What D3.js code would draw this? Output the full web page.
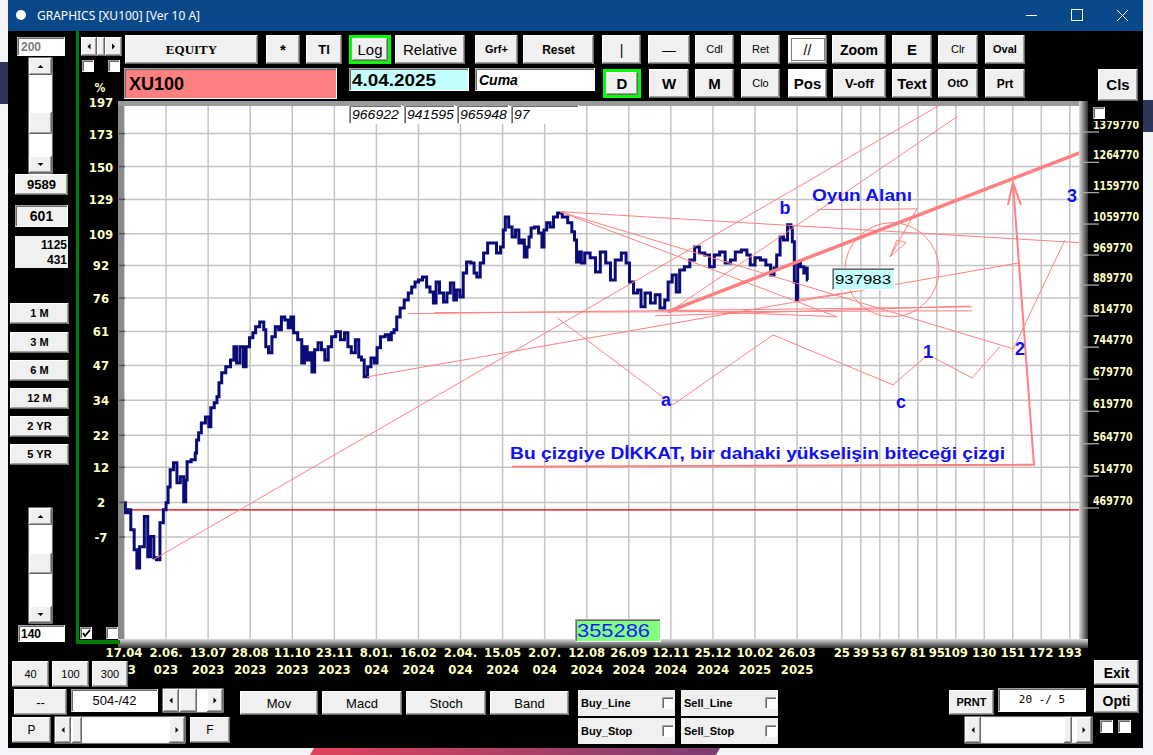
<!DOCTYPE html>
<html>
<head>
<meta charset="utf-8">
<title>GRAPHICS [XU100] [Ver 10 A]</title>
<script src="https://cdn.jsdelivr.net/npm/d3@7"></script>
<style>
  html, body { margin:0; padding:0; background:#f3f4f7; overflow:hidden; }
  svg { display:block; }
</style>
</head>
<body>
<div id="chart"></div>
<script>

//******************************************************************************
//**  Data (% change vs 17.04.2023)
//******************************************************************************
var priceBars = [0,2,4,6,9,10,13,17,18,21,23,25,28,30,32,33,35,38,40,43,45,46,47,52,53,54,56,58,62,63,65,68,69,71,73,77,80,82,84,87,89,91,94,96,98,102,104,105,108,110,113,115,117,120,122,124,126,130,132,134,136,138,139,142,144,147,149,152,154,158,161,164,166,169,172,174,176,178,181,183,186,187,191,194,196,198,200,202,205,208,211,213,216,218,222,224,227,229,231,234,237,239,242,244,246,249,251,254,257,259,261,264,266,270,273,276,279,280,282,285,287,290,292,294,296,298,299,301,304,307,309,310,313,315,318,321,325,329,331,333,334,336,338,341,346,349,353,357,360,364,369,371,374,377,380,382,386,390,393,397,400,402,406,408,411,415,419,422,426,430,433,437,441,445,449,452,458,460,463,467,471,475,478,480,482,485,487,491,492,493,495,496,497,500,502,503,504];
var pricePct = [1.9,-0.8,0,-5.2,-10.1,-14.4,-9.4,-1.8,-11.8,-6.9,-12.0,-12.5,-3.4,0,1.9,6.3,11.3,13.4,7.5,9.2,2.2,8.3,13.7,14.3,16.4,20.5,22.8,26.1,28.1,24.8,31.3,33.1,35.2,40.4,44.2,46.5,49.2,54.5,48.0,54.5,46.5,54.5,58.3,60.4,63.0,65.1,61.7,54.5,52.1,58.7,63.0,61.7,67.3,66.0,62.6,67.3,60.4,57.4,48.0,54.5,49.2,52.1,44.5,53.3,56.2,53.3,49.2,54.5,58.7,60.9,57.4,60.4,54.5,52.1,57.4,50.4,49.2,42.6,46.5,50.0,48.0,54.1,58.7,59.6,57.4,60.4,61.7,67.3,71.4,75.1,78.4,81.3,83.7,84.7,86.2,81.3,78.8,73.7,83.7,78.4,74.2,78.4,83.2,75.1,79.8,76.5,88.1,93.8,93.2,88.1,86.2,93.2,98.5,103.9,103.9,98.5,101.7,111.1,118.5,112.8,107.2,111.1,103.9,105.5,96.4,101.7,107.2,112.2,112.8,109.4,101.7,111.1,115.1,112.8,118.5,120.8,118.5,115.1,110.0,105.5,93.8,99.0,93.2,98.5,96.0,88.6,99.0,93.2,84.7,94.8,98.5,93.2,83.7,78.4,79.8,71.9,78.4,73.7,77.5,71.4,75.1,83.7,87.1,78.8,89.7,91.3,94.8,101.7,98.5,97.4,91.3,97.4,99.0,93.2,94.8,99.0,100.1,97.4,92.2,96.0,94.8,92.2,87.1,90.7,97.4,107.2,105.5,114.0,112.2,104.5,83.7,75.1,93.2,91.3,88.1,90.7,84.7];

var dateBars = [0,31,62,93,124,155,186,217,248,279,310,341,372,403,434,465,496];
var dateDay  = ["17.04","2.06.","13.07","28.08","11.10","23.11","8.01.","16.02","2.04.","15.05","2.07.","12.08","26.09","12.11","25.12","10.02","26.03"];
var dateYear = ["2023","023","2023","2023","2023","2023","024","2024","024","2024","024","2024","2024","2024","2024","2025","2025"];
var lastBar = 504;
var futureSteps = [25,39,53,67,81,95,109,130,151,172,193];

var pctTicks = [197,173,150,129,109,92,76,61,47,34,22,12,2,-7];
var priceTicks = [1379770,1264770,1159770,1059770,969770,889770,814770,744770,679770,619770,564770,514770,469770];

// hand drawn trend lines, [bar, %]
var thinLines = [
    [[21.4,-12.5],[605,197]],
    [[401,69.3],[614,185.6]],
    [[321.3,121.6],[704.5,104.0]],
    [[321.3,121.6],[525.4,67.4]],
    [[321.3,121.6],[655.1,53.7]],
    [[179.1,42.6],[660.3,93.4]],
    [[209.3,68.8],[624.9,71.9]],
    [[229.2,69.3],[624.9,70.1]],
    [[391.3,67.8],[623.4,72.3]],
    [[400.1,70.5],[525.4,67.4]],
    [[319.1,67.0],[404.6,32.4],[478.3,59.5],[566.7,39.6],[592.5,51.3],[624.9,42.2],[645.5,54.5]],
    [[654.4,52.5],[693.4,105.5]],
    [[510.7,122.8],[584.4,123.3],[564.5,96.5],[576.3,104.0],[569.6,105.5],[564.5,96.5]],
    [[496.7,75.1],[537.2,79.0]]
];
var mediumLines = [
    [[655.1,139.4],[670.6,12.8],[285.9,12.2]],
    [[651.4,125.7],[655.1,139.4],[661.0,125.7]]
];
var boldLines = [
    [[401,69.7],[704.5,159.4]]
];
var ovalBox = [[531.3,115.2],[600.6,67.4]];

var notes = [
    ["Oyun Alanı",507,128.2],
    ["b",487.1,120.4],
    ["a",399.4,32.0],
    ["c",572.6,31.3],
    ["1",592.5,50.0],
    ["2",660.3,51.3],
    ["3",698.6,127.6],
    ["Bu çizgiye DİKKAT, bir dahaki yükselişin biteceği çizgi",284.5,14.6]
];

var topValues = ["966922","941595","965948","97"];


//******************************************************************************
//**  Setup
//******************************************************************************
var SANS = "'Liberation Sans', Arial, sans-serif";
var NARROW = "'Liberation Sans Narrow', 'DejaVu Sans Condensed', 'Liberation Sans', sans-serif";
var YELLOW = "#ffffc4";
var PINK = "#ff8080";

var svg = d3.select("#chart").append("svg")
    .attr("width", 1153).attr("height", 755)
    .style("font-family", SANS);

var plot = {left:124, top:106, right:1079, bottom:639};

var x = d3.scaleLinear().domain([0, 704]).range([124, 1079.3]);
var yLog = d3.scaleLog().domain([0.93, 2.97]).range([537, 102]);
var yp = function(p){ return yLog(1 + p/100); };
var yPrice = d3.scaleLog().domain([469770, 1379770]).range([508, 132]);


//******************************************************************************
//**  Widget helpers
//******************************************************************************
function raised(g, x0, y0, w, h, fill){
    g.append("rect").attr("x",x0).attr("y",y0).attr("width",w).attr("height",h).attr("fill",fill||"#f0f0f0");
    g.append("path").attr("d","M"+(x0+0.5)+","+(y0+h-1)+"V"+(y0+0.5)+"H"+(x0+w-1)).attr("stroke","#fff").attr("fill","none");
    g.append("path").attr("d","M"+(x0+1)+","+(y0+h-1.5)+"H"+(x0+w-1.5)+"V"+(y0+1)).attr("stroke","#a0a0a0").attr("fill","none");
    g.append("path").attr("d","M"+x0+","+(y0+h-0.5)+"H"+(x0+w-0.5)+"V"+y0).attr("stroke","#696969").attr("fill","none");
}

function sunken(g, x0, y0, w, h, fill){
    g.append("rect").attr("x",x0).attr("y",y0).attr("width",w).attr("height",h).attr("fill",fill||"#fff");
    g.append("path").attr("d","M"+(x0+0.5)+","+(y0+h)+"V"+(y0+0.5)+"H"+(x0+w)).attr("stroke","#a0a0a0").attr("fill","none");
    g.append("path").attr("d","M"+(x0+1.5)+","+(y0+h-1)+"V"+(y0+1.5)+"H"+(x0+w-1)).attr("stroke","#696969").attr("fill","none");
    g.append("path").attr("d","M"+(x0+0.5)+","+(y0+h-0.5)+"H"+(x0+w-0.5)+"V"+y0).attr("stroke","#fff").attr("fill","none");
}

function txt(g, tx, ty, t, size, weight, anchor, color, family, style){
    return g.append("text").attr("x",tx).attr("y",ty).text(t)
        .attr("font-size", size+"px")
        .attr("font-weight", weight||"normal")
        .attr("text-anchor", anchor||"middle")
        .attr("fill", color||"#000")
        .attr("font-family", family||SANS)
        .attr("font-style", style||"normal");
}

function button(g, b){ // [x, y, w, h, label, size, weight, family]
    raised(g, b[0], b[1], b[2], b[3]);
    txt(g, b[0]+b[2]/2, b[1]+b[3]/2+b[5]*0.36, b[4], b[5], b[6], "middle", "#000", b[7]);
}

function arrowBtn(g, x0, y0, w, h, dir){
    raised(g, x0, y0, w, h);
    var cx = x0+w/2, cy = y0+h/2, s = 3;
    var d;
    if (dir==="up") d = "M"+(cx-s)+","+(cy+1.5)+"L"+(cx+s)+","+(cy+1.5)+"L"+cx+","+(cy-1.5)+"Z";
    else if (dir==="down") d = "M"+(cx-s)+","+(cy-1.5)+"L"+(cx+s)+","+(cy-1.5)+"L"+cx+","+(cy+1.5)+"Z";
    else if (dir==="left") d = "M"+(cx+1.5)+","+(cy-s)+"L"+(cx+1.5)+","+(cy+s)+"L"+(cx-1.5)+","+cy+"Z";
    else d = "M"+(cx-1.5)+","+(cy-s)+"L"+(cx-1.5)+","+(cy+s)+"L"+(cx+1.5)+","+cy+"Z";
    g.append("path").attr("d", d).attr("fill","#000");
}

function vscroll(g, x0, y0, w, h, thumbTop, thumbH){
    g.append("rect").attr("x",x0).attr("y",y0).attr("width",w).attr("height",h).attr("fill","#fff").attr("stroke","#e3e3e3");
    arrowBtn(g, x0, y0, w, 17, "up");
    arrowBtn(g, x0, y0+h-17, w, 17, "down");
    raised(g, x0, thumbTop, w, thumbH);
}

function hscroll(g, x0, y0, w, h, thumbLeft, thumbW){
    g.append("rect").attr("x",x0).attr("y",y0).attr("width",w).attr("height",h).attr("fill","#fff").attr("stroke","#e3e3e3");
    arrowBtn(g, x0, y0, 16, h, "left");
    arrowBtn(g, x0+w-16, y0, 16, h, "right");
    raised(g, thumbLeft, y0, thumbW, h);
}

function checkbox(g, x0, y0, s, checked){
    sunken(g, x0, y0, s, s, "#fff");
    if (checked){
        g.append("path").attr("d","M"+(x0+3)+","+(y0+6)+"L"+(x0+5)+","+(y0+9)+"L"+(x0+10)+","+(y0+3))
            .attr("stroke","#000").attr("stroke-width",1.8).attr("fill","none");
    }
}


//******************************************************************************
//**  Desktop + window
//******************************************************************************
svg.append("rect").attr("width",1153).attr("height",755).attr("fill","#f3f4f7");
svg.append("rect").attr("x",0).attr("y",62).attr("width",8).attr("height",42).attr("fill","#2e3358");
svg.append("rect").attr("x",1143).attr("y",100).attr("width",10).attr("height",32).attr("fill","#2e3358");

var defs = svg.append("defs");
var grad = defs.append("linearGradient").attr("id","band");
grad.append("stop").attr("offset","0%").attr("stop-color","#e2435b");
grad.append("stop").attr("offset","100%").attr("stop-color","#7b3d72");
svg.append("path").attr("d","M314,748L720,748L716,755L310,755Z").attr("fill","url(#band)");

svg.append("rect").attr("x",8).attr("y",0).attr("width",1135).attr("height",748).attr("fill","#000");

// title bar
svg.append("rect").attr("x",8).attr("y",0).attr("width",1135).attr("height",31).attr("fill","#0a4989");
svg.append("circle").attr("cx",21).attr("cy",15).attr("r",5).attr("fill","#fff");
txt(svg, 37, 20, "GRAPHICS  [XU100] [Ver 10 A]", 12, "normal", "start", "#fff", "'Noto Sans', " + SANS);
svg.append("path").attr("d","M1026,15.5H1037").attr("stroke","#fff");
svg.append("rect").attr("x",1071.5).attr("y",9.5).attr("width",11).attr("height",11).attr("fill","none").attr("stroke","#fff");
svg.append("path").attr("d","M1117,10L1128,21M1128,10L1117,21").attr("stroke","#fff");


//******************************************************************************
//**  Plot frame
//******************************************************************************
var frameGrad = defs.append("linearGradient").attr("id","fr").attr("x1","0").attr("x2","1");
frameGrad.append("stop").attr("offset","0%").attr("stop-color","#dcdcdc");
frameGrad.append("stop").attr("offset","100%").attr("stop-color","#303030");
var frameGradV = defs.append("linearGradient").attr("id","frv").attr("x1","0").attr("x2","0").attr("y1","0").attr("y2","1");
frameGradV.append("stop").attr("offset","0%").attr("stop-color","#dcdcdc");
frameGradV.append("stop").attr("offset","100%").attr("stop-color","#303030");

svg.append("rect").attr("x",118).attr("y",101).attr("width",6).attr("height",547).attr("fill","#8a8a8a");
svg.append("rect").attr("x",118).attr("y",101).attr("width",970).attr("height",5).attr("fill","#9a9a9a");
svg.append("rect").attr("x",plot.right).attr("y",101).attr("width",9).attr("height",547).attr("fill","url(#fr)");
svg.append("rect").attr("x",118).attr("y",plot.bottom).attr("width",970).attr("height",9).attr("fill","url(#frv)");
svg.append("rect").attr("x",plot.left).attr("y",plot.top)
    .attr("width",plot.right-plot.left).attr("height",plot.bottom-plot.top).attr("fill","#fff");

defs.append("clipPath").attr("id","clip").append("rect")
    .attr("x",plot.left).attr("y",plot.top).attr("width",plot.right-plot.left).attr("height",plot.bottom-plot.top);

var plotArea = svg.append("g").attr("clip-path","url(#clip)");

// grid
var vBars = dateBars.concat(futureSteps.map(function(s){ return lastBar + s; }));
plotArea.selectAll(".vgrid").data(vBars).enter().append("line")
    .attr("x1", function(d){ return x(d); }).attr("x2", function(d){ return x(d); })
    .attr("y1", plot.top).attr("y2", plot.bottom)
    .attr("stroke","#c4c4c4").attr("stroke-width",1.5);
plotArea.selectAll(".hgrid").data(pctTicks).enter().append("line")
    .attr("x1", plot.left).attr("x2", plot.right)
    .attr("y1", function(d){ return yp(d); }).attr("y2", function(d){ return yp(d); })
    .attr("stroke","#c4c4c4").attr("stroke-width",1.5);

// zero line
plotArea.append("line").attr("x1",plot.left).attr("x2",plot.right)
    .attr("y1",yp(0)).attr("y2",yp(0)).attr("stroke","#d80000").attr("stroke-width",1.2);

// left edge ticks
svg.selectAll(".ltick").data(pctTicks.filter(function(d){ return yp(d) > plot.top; })).enter().append("line")
    .attr("x1",119).attr("x2",125)
    .attr("y1", function(d){ return yp(d); }).attr("y2", function(d){ return yp(d); })
    .attr("stroke","#505050").attr("stroke-width",1.5);

// price line (daily closes, drawn as steps like the original)
var idx = d3.range(priceBars.length);
var priceLine = d3.line()
    .x(function(i){ return x(priceBars[i]); })
    .y(function(i){ return yp(pricePct[i]); })
    .curve(d3.curveStep);
plotArea.append("path").datum(idx).attr("d", priceLine)
    .attr("fill","none").attr("stroke","#0a0a78").attr("stroke-width",3);

// trend lines
var trend = d3.line().x(function(d){ return x(d[0]); }).y(function(d){ return yp(d[1]); });
plotArea.selectAll(".thin").data(thinLines).enter().append("path")
    .attr("d", trend).attr("fill","none").attr("stroke",PINK).attr("stroke-width",1);
plotArea.selectAll(".medium").data(mediumLines).enter().append("path")
    .attr("d", trend).attr("fill","none").attr("stroke",PINK).attr("stroke-width",2);
plotArea.selectAll(".bold").data(boldLines).enter().append("path")
    .attr("d", trend).attr("fill","none").attr("stroke",PINK).attr("stroke-width",3.5);

// oval
var ox0 = x(ovalBox[0][0]), ox1 = x(ovalBox[1][0]);
var oy0 = yp(ovalBox[0][1]), oy1 = yp(ovalBox[1][1]);
plotArea.append("ellipse")
    .attr("cx",(ox0+ox1)/2).attr("cy",(oy0+oy1)/2)
    .attr("rx",Math.abs(ox1-ox0)/2).attr("ry",Math.abs(oy1-oy0)/2)
    .attr("fill","none").attr("stroke",PINK).attr("stroke-width",1);

// notes
notes.forEach(function(n){
    var longText = n[0].length > 2;
    var t = txt(plotArea, x(n[1]), yp(n[2]), n[0], longText ? 17 : 18, "bold",
        longText ? "start" : "middle", "#1010f4");
    if (n[0].length > 20) t.attr("textLength", 495).attr("lengthAdjust","spacingAndGlyphs");
    else if (longText) t.attr("textLength", 100).attr("lengthAdjust","spacingAndGlyphs");
});

// value boxes in the plot
var topBoxX = [349,404,457,511], topBoxW = [53,51,52,68];
topValues.forEach(function(v,i){
    sunken(svg, topBoxX[i], 105, topBoxW[i], 19, "#fff");
    txt(svg, topBoxX[i]+3, 119, v, 12, "normal", "start", "#000", SANS, "italic")
        .attr("textLength", v.length*7.8).attr("lengthAdjust","spacingAndGlyphs");
});
sunken(svg, 832, 268, 63, 22, "#c4ffff");
txt(svg, 835, 284, "937983", 13, "normal", "start", "#000", SANS)
    .attr("textLength",56).attr("lengthAdjust","spacingAndGlyphs");
sunken(svg, 575, 619, 86, 23, "#80ff80");
txt(svg, 577, 637, "355286", 18, "normal", "start", "#1818ff")
    .attr("textLength",73).attr("lengthAdjust","spacingAndGlyphs");


//******************************************************************************
//**  Axes labels
//******************************************************************************
pctTicks.forEach(function(d){
    txt(svg, 101, yp(d)+5, d, 13, "bold", "middle", YELLOW, NARROW);
});
txt(svg, 100, 92, "%", 12, "bold", "middle", YELLOW, NARROW);

priceTicks.forEach(function(v){
    var ty = yPrice(v);
    var s = String(v);
    svg.append("line").attr("x1",1080).attr("x2",1099).attr("y1",ty).attr("y2",ty)
        .attr("stroke","#a8a8a8").attr("stroke-width",1.3);
    txt(svg, 1093, ty-3, s, 13, "bold", "start", YELLOW, NARROW)
        .attr("textLength", s.length*6.6).attr("lengthAdjust","spacingAndGlyphs");
});

dateBars.forEach(function(b,i){
    txt(svg, x(b), 657, dateDay[i], 13, "bold", "middle", YELLOW, NARROW);
    if (x(b) - 12 < 129) {
        // the first year label is cut by the "300" button, only its tail shows
        txt(svg, x(b)+12, 674, dateYear[i].slice(-1), 13, "bold", "end", YELLOW, NARROW);
    } else {
        txt(svg, x(b), 674, dateYear[i], 13, "bold", "middle", YELLOW, NARROW);
    }
});
futureSteps.forEach(function(s){
    txt(svg, x(lastBar+s), 657, s, 13, "bold", "middle", YELLOW, NARROW);
});


//******************************************************************************
//**  Toolbar + controls
//******************************************************************************
var ui = svg.append("g");

// right top cover + checkbox
ui.append("rect").attr("x",1088).attr("y",100).attr("width",55).attr("height",21).attr("fill","#000");
checkbox(ui, 1093, 107, 12, false);

// green frame
ui.append("rect").attr("x",76).attr("y",31).attr("width",3).attr("height",613).attr("fill","#008000");
ui.append("rect").attr("x",76).attr("y",640).attr("width",44).attr("height",4).attr("fill","#008000");

var topButtons = [
    [125,35,133,29,"EQUITY",13,"bold","'Liberation Serif', serif"],
    [266,35,34,29,"*",15,"bold"],
    [306,35,36,29,"Tl",13,"bold"],
    [352,38,36,23,"Log",15,"normal"],
    [395,35,70,29,"Relative",15,"normal"],
    [475,35,43,29,"Grf+",11,"bold"],
    [523,35,71,29,"Reset",12,"bold"],
    [602,35,39,29,"|",14,"normal"],
    [648,35,42,29,"\u2014",14,"normal"],
    [695,35,39,29,"Cdl",11,"normal"],
    [741,35,39,29,"Ret",11,"normal"],
    [832,35,54,29,"Zoom",14,"bold"],
    [892,35,40,29,"E",15,"bold"],
    [938,35,40,29,"Clr",11,"normal"],
    [985,35,40,29,"Oval",11,"bold"],
    [606,72,32,23,"D",15,"bold"],
    [649,69,40,29,"W",15,"bold"],
    [695,69,39,29,"M",15,"bold"],
    [741,69,39,29,"Clo",11,"normal"],
    [833,69,53,29,"V-off",13,"bold"],
    [892,69,40,29,"Text",15,"bold"],
    [938,69,40,29,"OtO",11,"bold"],
    [985,69,40,29,"Prt",12,"bold"],
    [1098,69,40,32,"Cls",15,"bold"]
];
topButtons.forEach(function(b){ button(ui, b); });

// pressed-looking white buttons
[[788,35,39,29,"//",14,"normal"],[788,69,39,29,"Pos",15,"bold"]].forEach(function(b){
    raised(ui, b[0], b[1], b[2], b[3], "#fdfdfd");
    txt(ui, b[0]+b[2]/2, b[1]+b[3]/2+b[5]*0.36, b[4], b[5], b[6]);
});
ui.append("rect").attr("x",791.5).attr("y",38.5).attr("width",33).attr("height",22)
    .attr("fill","none").attr("stroke","#000").attr("stroke-dasharray","1,1");

// green highlight frames
ui.append("rect").attr("x",350.5).attr("y",36.5).attr("width",39).attr("height",26)
    .attr("fill","none").attr("stroke","#00ff00").attr("stroke-width",3);
ui.append("rect").attr("x",604.5).attr("y",70.5).attr("width",35).attr("height",26)
    .attr("fill","none").attr("stroke","#00ff00").attr("stroke-width",3);

// symbol / date / day boxes
sunken(ui, 124, 68, 213, 31, "#ff8080");
txt(ui, 129, 90, "XU100", 18, "bold", "start");
sunken(ui, 349, 68, 120, 23, "#c4ffff");
txt(ui, 352, 86, "4.04.2025", 16, "bold", "start").attr("textLength",84).attr("lengthAdjust","spacingAndGlyphs");
sunken(ui, 475, 68, 120, 23, "#fff");
txt(ui, 479, 85, "Cuma", 14, "bold", "start", "#000", SANS, "italic");

// top-left scroll arrows + checkboxes
arrowBtn(ui, 81, 37, 16, 19, "left");
raised(ui, 97, 37, 8, 19);
arrowBtn(ui, 105, 37, 17, 19, "right");
checkbox(ui, 82, 60, 12, false);
checkbox(ui, 108, 60, 12, false);

// left column
sunken(ui, 17, 37, 48, 19, "#fff");
txt(ui, 21, 51, "200", 12, "bold", "start", "#7a7a7a");
vscroll(ui, 29, 58, 23, 115, 112, 22);
raised(ui, 15, 174, 53, 21);
txt(ui, 41.5, 189, "9589", 13, "bold");
sunken(ui, 15, 205, 53, 22, "#f0f0f0");
txt(ui, 41.5, 221, "601", 14, "bold");
ui.append("rect").attr("x",15).attr("y",236).attr("width",53).attr("height",32).attr("fill","#f0f0f0");
txt(ui, 67, 249, "1125", 12, "bold", "end");
txt(ui, 67, 264, "431", 12, "bold", "end");

var periodButtons = ["1 M","3 M","6 M","12 M","2 YR","5 YR"];
var periodY = [303,332,360,388,416,444];
periodButtons.forEach(function(p,i){ button(ui, [10,periodY[i],59,21,p,11,"bold"]); });

vscroll(ui, 29, 508, 23, 115, 553, 21);
sunken(ui, 18, 625, 47, 17, "#fff");
txt(ui, 21, 638, "140", 12, "bold", "start");
checkbox(ui, 80, 627, 12, true);
checkbox(ui, 106, 627, 12, false);

// bottom controls
[[12,661,37,26,"40",11,"normal"],[52,661,37,26,"100",11,"normal"],[92,661,36,26,"300",11,"normal"],
 [14,689,53,26,"--",13,"normal"],
 [240,691,78,24,"Mov",13,"normal"],[322,691,80,24,"Macd",13,"normal"],
 [406,691,80,24,"Stoch",13,"normal"],[490,691,79,24,"Band",13,"normal"],
 [12,717,39,26,"P",12,"normal"],[190,717,40,26,"F",12,"normal"],
 [949,690,45,25,"PRNT",11,"bold"],
 [1094,660,45,25,"Exit",14,"bold"],[1094,688,45,25,"Opti",14,"bold"]
].forEach(function(b){ button(ui, b); });

sunken(ui, 71, 689, 87, 23, "#fff");
txt(ui, 114.5, 705, "504-/42", 13, "normal");
hscroll(ui, 163, 689, 60, 23, 180, 17);
hscroll(ui, 55, 717, 130, 26, 72, 10);
sunken(ui, 998, 688, 88, 24, "#fff");
txt(ui, 1042, 703, "20  -/ 5", 11, "normal", "middle", "#000", "'DejaVu Sans Mono', monospace");
hscroll(ui, 965, 717, 127, 26, 1064, 8);
checkbox(ui, 1100, 720, 13, false);
checkbox(ui, 1118, 720, 13, false);

var signalNames = ["Buy_Line","Sell_Line","Buy_Stop","Sell_Stop"];
var signalX = [578,681,578,681], signalY = [690,690,718,718];
signalNames.forEach(function(s,i){
    ui.append("rect").attr("x",signalX[i]).attr("y",signalY[i]).attr("width",97).attr("height",26).attr("fill","#f0f0f0");
    txt(ui, signalX[i]+3, signalY[i]+17, s, 11, "bold", "start");
    checkbox(ui, signalX[i]+84, signalY[i]+7, 12, false);
});

</script>
</body>
</html>
